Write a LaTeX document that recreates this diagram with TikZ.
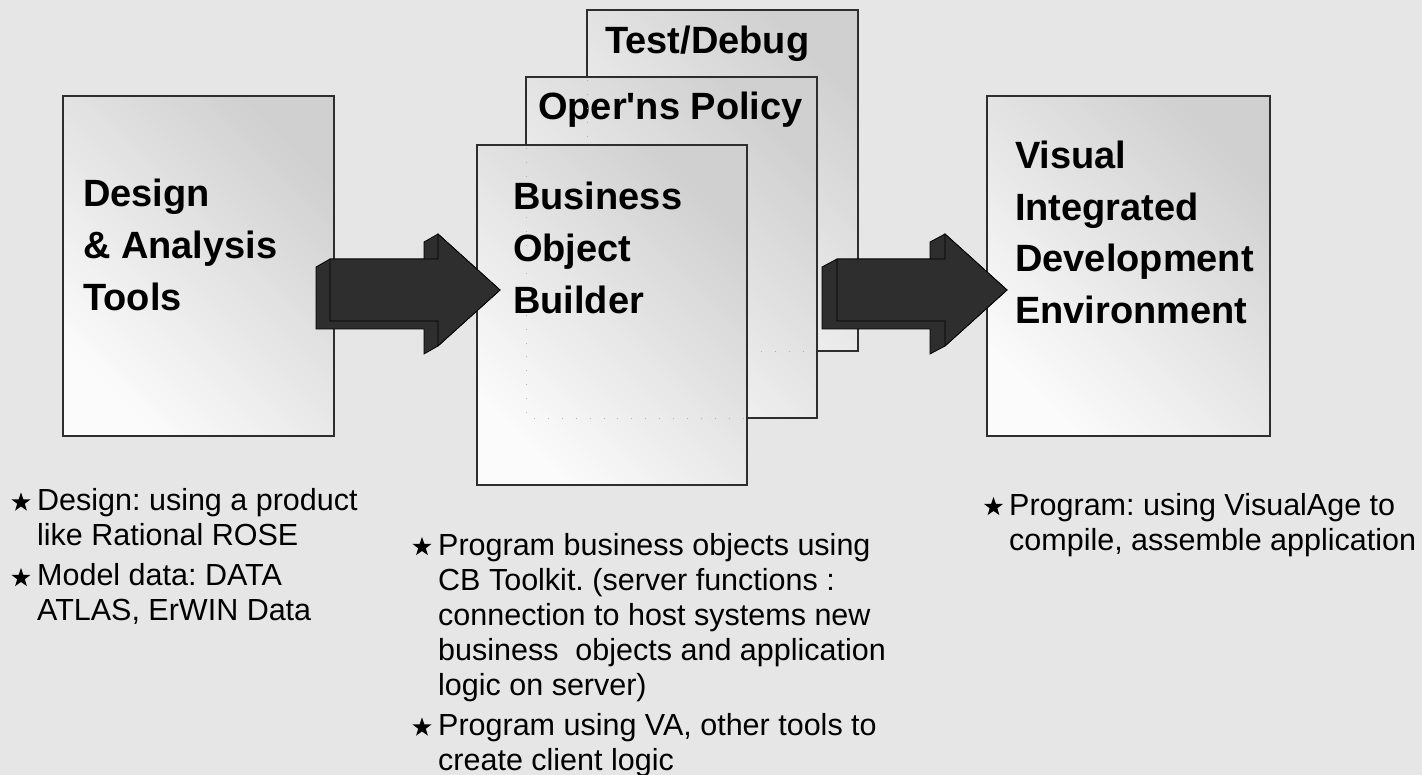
\documentclass[tikz,border=0pt]{standalone}
\usepackage{fontspec}
\setmainfont{Liberation Sans}
\usetikzlibrary{shapes.geometric}

\definecolor{bg}{HTML}{E6E6E6}
\definecolor{boxdark}{HTML}{D0D0D0}
\definecolor{boxlight}{HTML}{FBFBFB}
\definecolor{edge}{HTML}{2E2E2E}
\definecolor{arrowfill}{HTML}{2E2E2E}

% straight apostrophe, taken directly from the font
\newcommand\straightquote{\XeTeXglyph\XeTeXglyphindex "quotesingle"\relax}

% 3-D block arrow: #1 tail x, #2 axis y, #3/#4 depth offset (left, down)
\newcommand\blockarrow[4]{%
  % outline of the whole solid: front face plus the visible depth
  \path[arrowface] (#1,#2-31) -- (#1+108-#3,#2-31) -- (#1+108-#3,#2-56+#4)
    -- (#1+108,#2-56) -- (#1+170,#2) -- (#1+108,#2+56) -- (#1+108-#3,#2+56+#4)
    -- (#1+108-#3,#2+31+#4) -- (#1-#3,#2+31+#4) -- (#1-#3,#2-31+#4) -- cycle;
  % front face
  \path[arrowface] (#1,#2-31) -- (#1+108,#2-31) -- (#1+108,#2-56) -- (#1+170,#2)
    -- (#1+108,#2+56) -- (#1+108,#2+31) -- (#1,#2+31) -- cycle;
}

\begin{document}
\begin{tikzpicture}[x=1pt,y=-1pt,
  panel/.style={draw=edge, line width=1.3pt, shading=axis, top color=boxdark,
    bottom color=boxlight, shading angle=-45, anchor=north west,
    inner sep=0pt, outer sep=0pt},
  title/.style={anchor=base west, inner sep=0pt,
    font=\fontsize{38}{46}\selectfont\bfseries},
  note/.style={anchor=base west, inner sep=0pt,
    font=\fontsize{30.5}{35}\selectfont\frenchspacing},
  bullet/.style={star, star points=5, star point ratio=2.5, fill=black,
    draw=none, minimum size=20pt, inner sep=0pt},
  hidden/.style={draw=black!30, line width=0.9pt, dash pattern=on 0.9pt off 13pt},
  arrowface/.style={fill=arrowfill, draw=black, line width=0.8pt, line join=miter}
]
\useasboundingbox (0,0) rectangle (1422,775);
\fill[bg] (0,0) rectangle (1422,775);

% left panel
\node[panel, minimum width=271pt, minimum height=340pt] (design) at (63,96) {};
\node[title] (dat1) at (83,206.7) {Design};
\node[title] (dat2) at (83,258.5) {\& Analysis};
\node[title] (dat3) at (83,310.5) {Tools};

% stacked middle panels, back to front
\node[panel, minimum width=271pt, minimum height=341pt] (test) at (587,10) {};
\node[title] (testlbl) at (605,54) {Test/Debug};
\node[panel, minimum width=291pt, minimum height=341pt] (opers) at (526,77) {};
\node[title] (operslbl) at (538,120) {Oper\straightquote ns Policy};
\draw[hidden] (587,80) -- (587,351) -- (815,351);
\node[panel, minimum width=270pt, minimum height=340pt] (bob) at (477,145) {};
\draw[hidden] (526,148) -- (526,418) -- (745,418);
\node[title] (bob1) at (513,210) {Business};
\node[title] (bob2) at (513,262) {Object};
\node[title] (bob3) at (513,314) {Builder};

% right panel
\node[panel, minimum width=283pt, minimum height=340pt] (vide) at (987,96) {};
\node[title] (vide1) at (1015,169) {Visual};
\node[title] (vide2) at (1015,220.5) {Integrated};
\node[title] (vide3) at (1015,272) {Development};
\node[title] (vide4) at (1015,323.5) {Environment};

% flow arrows
\blockarrow{330}{290}{14}{8}
\blockarrow{837}{290}{15}{8}

% notes under the left panel
\node[bullet] (sa1) at (21,502.5) {};
\node[note] (la1) at (37,510.7) {Design: using a product};
\node[note] (la2) at (37,545.3) {like Rational ROSE};
\node[bullet] (sa2) at (21,578) {};
\node[note] (la3) at (37,585.7) {Model data: DATA};
\node[note] (la4) at (37,620.7) {ATLAS, ErWIN Data};

% notes under the middle panels
\node[bullet] (sb1) at (422,547) {};
\node[note] (lb1) at (438,555) {Program business objects using};
\node[note] (lb2) at (438,590) {CB Toolkit. (server functions :};
\node[note] (lb3) at (438,625) {connection to host systems new};
\node[note] (lb4) at (438,660) {business\ \ objects and application};
\node[note] (lb5) at (438,695) {logic on server)};
\node[bullet] (sb2) at (422,727.5) {};
\node[note] (lb6) at (438,735) {Program using VA, other tools to};
\node[note] (lb7) at (438,770) {create client logic};

% notes under the right panel
\node[bullet] (sc1) at (993.5,507) {};
\node[note] (lc1) at (1009,515) {Program: using VisualAge to};
\node[note] (lc2) at (1009,550) {compile, assemble application};
\end{tikzpicture}
\end{document}
